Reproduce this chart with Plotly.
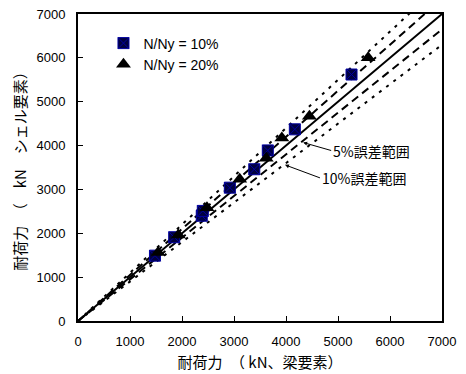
import plotly.graph_objects as go

# Data (kN)
beam_10 = [1480, 1850, 2380, 2400, 2920, 3390, 3650, 4170, 5260]
shell_10 = [1490, 1910, 2400, 2510, 3040, 3460, 3890, 4370, 5620]
beam_20 = [1540, 1930, 2480, 3110, 3620, 3920, 4450, 5580]
shell_20 = [1560, 1960, 2580, 3230, 3710, 4170, 4670, 6000]

ref_ratios = [1.0, 1.05, 0.95, 1.10, 0.90]
ref_dash = ["solid", "8px,5px", "8px,5px", "3px,6px", "3px,6px"]
ref_x = [0, 7000]

tick_vals = [0, 1000, 2000, 3000, 4000, 5000, 6000, 7000]
tick_text = [str(v) for v in tick_vals]

FONT = "Liberation Sans, Arial, Noto Sans CJK JP"
CJK = "Noto Sans CJK JP, Liberation Sans"

fig = go.Figure()

for r, d in zip(ref_ratios, ref_dash):
    fig.add_trace(go.Scatter(
        x=ref_x, y=[r * v for v in ref_x], mode="lines",
        line=dict(color="black", width=2, dash=d),
        showlegend=False, hoverinfo="skip"))

fig.add_trace(go.Scatter(
    x=beam_10, y=shell_10, mode="markers", name="N/Ny = 10%",
    marker=dict(symbol="square-x", size=11, color="#000040",
                line=dict(color="#0000a0", width=1))))
fig.add_trace(go.Scatter(
    x=beam_20, y=shell_20, mode="markers", name="N/Ny = 20%",
    marker=dict(symbol="triangle-up", size=13, color="black",
                line=dict(color="black", width=0))))

fig.add_annotation(
    x=4330, y=4070, xref="x", yref="y", text="5%誤差範囲", showarrow=True,
    arrowhead=2, arrowsize=0.8, arrowwidth=1, arrowcolor="black",
    ax=28, ay=8, xanchor="left", yanchor="middle",
    font=dict(family=CJK, size=14, color="black"))
fig.add_annotation(
    x=3980, y=3560, xref="x", yref="y", text="10%誤差範囲", showarrow=True,
    arrowhead=2, arrowsize=0.8, arrowwidth=1, arrowcolor="black",
    ax=35, ay=13, xanchor="left", yanchor="middle",
    font=dict(family=CJK, size=14, color="black"))

axis_common = dict(
    range=[0, 7000], tickvals=tick_vals, ticktext=tick_text,
    ticks="inside", ticklen=5, tickwidth=1, tickcolor="black",
    showline=True, linecolor="black", linewidth=2, mirror=True,
    showgrid=False, zeroline=False, automargin=False,
    tickfont=dict(family=FONT, size=13, color="black"),
)

fig.update_layout(
    width=466, height=374,
    margin=dict(l=78, r=24, t=14, b=53),
    plot_bgcolor="white", paper_bgcolor="white",
    font=dict(family=FONT, color="black"),
    xaxis=dict(**axis_common, ticklabelstandoff=7,
               title=dict(text="耐荷力　（ kN、梁要素）", standoff=10,
                          font=dict(family=CJK, size=15, color="black"))),
    yaxis=dict(**axis_common, ticklabelstandoff=8,
               title=dict(text="耐荷力　（　kN　シェル要素）", standoff=6,
                          font=dict(family=CJK, size=15, color="black"))),
    legend=dict(x=0.07, y=0.956, xanchor="left", yanchor="top",
                bgcolor="rgba(0,0,0,0)", tracegroupgap=0,
                font=dict(family=FONT, size=14, color="black"),
                itemwidth=30),
    showlegend=True,
)

fig.write_html("out.html")
